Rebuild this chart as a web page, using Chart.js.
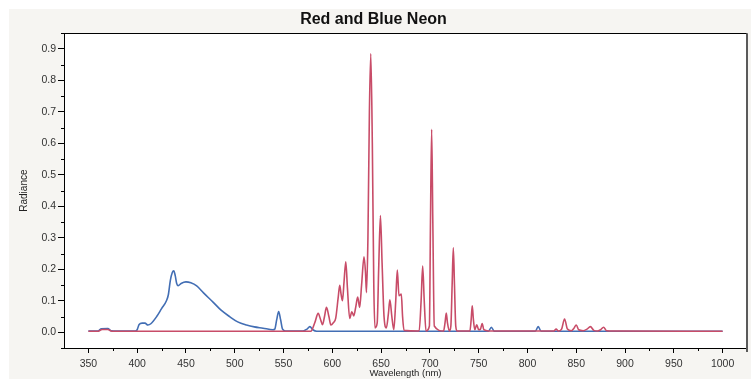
<!DOCTYPE html>
<html>
<head>
<meta charset="utf-8">
<script src="https://cdn.jsdelivr.net/npm/chart.js@4.4.1/dist/chart.umd.min.js"></script>
<style>
  html, body { margin: 0; padding: 0; background: #fff; }
  #wrap { width: 751px; height: 379px; }
</style>
</head>
<body>
<div id="wrap"><canvas id="neon"></canvas></div>
<script>
// red neon spectrum (wavelength nm / radiance)
var redNm  = [350, 360, 364, 370, 374, 400, 500, 578, 582, 585.5, 588, 590, 592, 594, 596.5, 598.5, 601, 603.5, 606, 607.6,
              609, 610.4, 612, 613.8, 615.5, 617.8, 620, 622, 624, 626, 628, 630, 632.5, 634, 635, 636.5, 638, 639.4, 641, 642.5,
              643.7, 646, 647.5, 649.3, 651, 653, 655.4, 657.5, 659, 661, 663, 665, 666.6, 668.3, 670.7, 672, 673.5, 689, 691, 692.6,
              694.2, 696, 699.5, 700.6, 701.8, 703, 704.5, 714, 715.5, 716.8, 718, 720, 721.5, 722.8, 724, 725.2, 726.5, 728, 741, 742.3,
              743.4, 744.6, 746, 748, 750, 751.8, 753.6, 755.3, 760, 827, 829.4, 831.5, 835, 838, 841, 845, 847.5, 850,
              852.5, 857, 861, 864.5, 868, 872, 875, 878, 881, 890, 1000];
var redRad = [0.003, 0.003, 0.009, 0.009, 0.003, 0.003, 0.003, 0.003, 0.03, 0.06, 0.04, 0.024, 0.05, 0.079, 0.05, 0.023, 0.03, 0.045, 0.11, 0.149,
              0.12, 0.10, 0.16, 0.224, 0.14, 0.044, 0.065, 0.052, 0.08, 0.112, 0.079, 0.15, 0.24, 0.19, 0.126, 0.3, 0.7, 0.885, 0.6, 0.15,
              0.014, 0.03, 0.2, 0.371, 0.22, 0.05, 0.014, 0.06, 0.103, 0.05, 0.008, 0.1, 0.198, 0.116, 0.121, 0.05, 0.006, 0.004, 0.1, 0.21,
              0.1, 0.004, 0.02, 0.35, 0.645, 0.35, 0.02, 0.004, 0.03, 0.061, 0.03, 0.004, 0.02, 0.15, 0.268, 0.15, 0.02, 0.004, 0.004, 0.04,
              0.084, 0.04, 0.008, 0.024, 0.008, 0.01, 0.028, 0.008, 0.004, 0.004, 0.01, 0.004, 0.01, 0.042, 0.01, 0.005, 0.012, 0.023,
              0.008, 0.005, 0.01, 0.018, 0.006, 0.004, 0.008, 0.016, 0.005, 0.004, 0.003];

// blue neon spectrum
var blueNm  = [350, 360, 363, 370, 373, 380, 398, 400, 402, 405, 408, 411, 414, 420, 425, 430, 432, 434, 436, 437.5,
               439, 440.5, 442, 445, 450, 455, 461, 468, 478, 486, 495, 503, 512, 520, 529, 539, 541, 543, 545, 547,
               549, 552, 570, 574, 577, 580, 584, 760, 763, 766, 808, 811, 814, 1000];
var blueRad = [0.004, 0.004, 0.011, 0.012, 0.005, 0.004, 0.004, 0.008, 0.025, 0.029, 0.029, 0.023, 0.027, 0.05, 0.075, 0.10, 0.12, 0.165, 0.19, 0.195,
               0.18, 0.155, 0.148, 0.155, 0.16, 0.157, 0.147, 0.125, 0.095, 0.07, 0.049, 0.033, 0.023, 0.017, 0.013, 0.008, 0.01, 0.04, 0.066, 0.04,
               0.01, 0.004, 0.004, 0.01, 0.018, 0.008, 0.003, 0.003, 0.016, 0.003, 0.003, 0.018, 0.003, 0.003];

var xTicks = [350, 400, 450, 500, 550, 600, 650, 700, 750, 800, 850, 900, 950, 1000];
var xMinor = [375, 425, 475, 525, 575, 625, 675, 725, 775, 825, 875, 925, 975];
var yTicks = [0, 0.1, 0.2, 0.3, 0.4, 0.5, 0.6, 0.7, 0.8, 0.9];
var yMinor = [-0.05, 0.05, 0.15, 0.25, 0.35, 0.45, 0.55, 0.65, 0.75, 0.85, 0.95];

function pairs(xs, ys){
  var out = [];
  for (var i = 0; i < xs.length; i++) out.push({x: xs[i], y: ys[i]});
  return out;
}

var fam = "'Liberation Sans', Arial, Helvetica, sans-serif";

// grey panel, white plot box and the top/right frame lines
var framePlugin = {
  id: 'frame',
  beforeDraw: function(chart){
    var c = chart.ctx, a = chart.chartArea;
    c.save();
    c.fillStyle = '#f6f5f2';
    c.fillRect(9, 9, chart.width - 9, chart.height - 9);
    c.fillStyle = '#ffffff';
    c.fillRect(a.left, a.top, a.right - a.left, a.bottom - a.top);
    c.restore();
  },
  afterDraw: function(chart){
    var c = chart.ctx, a = chart.chartArea;
    var xs = chart.scales.x, ys = chart.scales.y;
    c.save();
    c.strokeStyle = '#000';
    c.lineWidth = 1;
    c.beginPath();
    c.moveTo(a.left - 3, Math.round(a.top) + 0.5);
    c.lineTo(a.right, Math.round(a.top) + 0.5);
    c.stroke();
    c.strokeStyle = '#5a5a5a';
    c.lineWidth = 2;
    c.beginPath();
    c.moveTo(a.right, a.top);
    c.lineTo(a.right, a.bottom + 4);
    c.stroke();
    // minor ticks
    c.strokeStyle = '#000';
    c.lineWidth = 1;
    c.beginPath();
    xMinor.forEach(function(v){
      var px = Math.round(xs.getPixelForValue(v)) + 0.5;
      c.moveTo(px, a.bottom);
      c.lineTo(px, a.bottom + 3);
    });
    yMinor.forEach(function(v){
      var py = Math.round(ys.getPixelForValue(v)) + 0.5;
      c.moveTo(a.left, py);
      c.lineTo(a.left - 3, py);
    });
    c.stroke();
    c.restore();
  }
};

new Chart(document.getElementById('neon'), {
  type: 'line',
  data: {
    datasets: [{
      label: 'Red Neon',
      data: pairs(redNm, redRad),
      borderColor: 'rgb(200, 76, 104)',
      borderWidth: 1.6,
      pointRadius: 0,
      cubicInterpolationMode: 'monotone',
      fill: false
    }, {
      label: 'Blue Neon',
      data: pairs(blueNm, blueRad),
      borderColor: 'rgb(66, 110, 180)',
      borderWidth: 1.6,
      pointRadius: 0,
      cubicInterpolationMode: 'monotone',
      fill: false
    }]
  },
  options: {
    responsive: true,
    maintainAspectRatio: false,
    animation: false,
    layout: { padding: { left: 0, right: 4, top: 0, bottom: 0 } },
    plugins: {
      legend: { display: false },
      tooltip: { enabled: false },
      title: {
        display: true,
        text: 'Red and Blue Neon',
        color: '#111',
        font: { family: fam, size: 16, weight: 'bold' },
        padding: { top: 10, bottom: 4 }
      }
    },
    scales: {
      x: {
        type: 'linear',
        min: 325,
        max: 1025,
        afterBuildTicks: function(s){ s.ticks = xTicks.map(function(v){ return {value: v}; }); },
        afterFit: function(s){ s.height = 31; },
        ticks: {
          color: '#333',
          font: { family: fam, size: 10.5 },
          padding: 5,
          maxRotation: 0,
          autoSkip: false,
          callback: function(v){ return String(v); }
        },
        grid: { drawOnChartArea: false, tickLength: 5, color: '#000' },
        border: { color: '#000', width: 1 },
        title: {
          display: true,
          text: 'Wavelength (nm)',
          color: '#222',
          font: { family: fam, size: 9.5 },
          padding: { top: 0, bottom: 0 }
        }
      },
      y: {
        type: 'linear',
        min: -0.05,
        max: 0.95,
        afterBuildTicks: function(s){ s.ticks = yTicks.map(function(v){ return {value: v}; }); },
        afterFit: function(s){ s.width = 64; },
        ticks: {
          color: '#333',
          font: { family: fam, size: 10.5 },
          padding: 2,
          callback: function(v){ return Number(v).toFixed(1); }
        },
        grid: { drawOnChartArea: false, tickLength: 6, color: '#000' },
        border: { color: '#000', width: 1 },
        title: {
          display: true,
          text: 'Radiance',
          color: '#222',
          font: { family: fam, size: 10 },
          padding: { top: 18, bottom: 0 }
        }
      }
    }
  },
  plugins: [framePlugin]
});
</script>
</body>
</html>
